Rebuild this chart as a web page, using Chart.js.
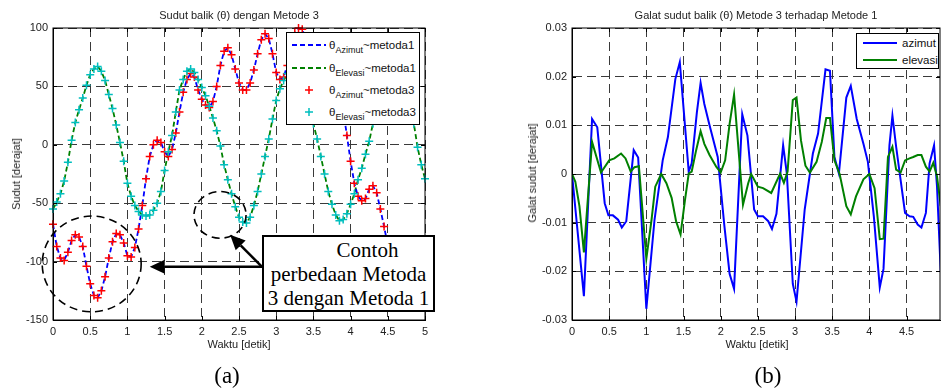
<!DOCTYPE html>
<html lang="id">
<head>
<meta charset="utf-8">
<title>Sudut balik Metode 3</title>
<script src="https://cdn.jsdelivr.net/npm/chart.js@4.4.1/dist/chart.umd.min.js"></script>
<style>
  html, body { margin: 0; padding: 0; background: #fff; }
  #wrap { position: relative; width: 941px; height: 392px; overflow: hidden;
          font-family: "Liberation Sans", Arial, sans-serif; color: #222; }
  canvas { position: absolute; top: 0; }
  .lbl { position: absolute; white-space: nowrap; transform: translate(-50%, -50%); font-size: 11px; }
  .rot { transform: translate(-50%, -50%) rotate(-90deg); }
  .cap { font-family: "Liberation Serif", "Times New Roman", serif; font-size: 23px; color: #000; }
  .leg { position: absolute; box-sizing: border-box; background: #fff; border: 1px solid #000;
         font-size: 11.5px; color: #111; }
  .leg .row { position: absolute; left: 0; height: 16px; line-height: 16px; white-space: nowrap; }
  .leg svg { position: absolute; top: 0; }
  .leg span { position: absolute; top: 0; }
  .leg sub { font-size: 9px; vertical-align: -4px; line-height: 0; }
  #kotak { position: absolute; left: 262px; top: 235px; width: 173px; height: 77px; box-sizing: border-box;
           border: 2px solid #000; background: #fff; color: #000; text-align: center;
           font-family: "Liberation Serif", "Times New Roman", serif; font-size: 21px; line-height: 24px; padding-top: 1px; }
</style>
</head>
<body>
<div id="wrap">
  <canvas id="grafikA" width="470" height="392" style="left:0"></canvas>
  <canvas id="grafikB" width="471" height="392" style="left:470px"></canvas>

  <div class="lbl" style="left:239px;top:14.5px">Sudut balik (θ) dengan Metode 3</div>
  <div class="lbl" style="left:756px;top:14.5px">Galat sudut balik (θ) Metode 3 terhadap Metode 1</div>
  <div class="lbl" style="left:239px;top:344px">Waktu [detik]</div>
  <div class="lbl" style="left:757px;top:344px">Waktu [detik]</div>
  <div class="lbl rot" style="left:16px;top:174px">Sudut [derajat]</div>
  <div class="lbl rot" style="left:532px;top:173px">Galat sudut [derajat]</div>
  <div class="lbl cap" style="left:227px;top:376px">(a)</div>
  <div class="lbl cap" style="left:768px;top:376px">(b)</div>

  <!-- legenda grafik (a) -->
  <div class="leg" style="left:286px;top:32px;width:134px;height:93px">
    <div class="row" style="top:4px"><svg width="34" height="16" style="left:5px"><line x1="0" y1="8" x2="34" y2="8" stroke="#0000ff" stroke-width="1.8" stroke-dasharray="5,3"/></svg><span style="left:42px">θ<sub>Azimut</sub>~metoda1</span></div>
    <div class="row" style="top:27px"><svg width="34" height="16" style="left:5px"><line x1="0" y1="8" x2="34" y2="8" stroke="#008000" stroke-width="1.8" stroke-dasharray="5,3"/></svg><span style="left:42px">θ<sub>Elevasi</sub>~metoda1</span></div>
    <div class="row" style="top:49px"><svg width="34" height="16" style="left:5px"><path d="M13 8H21M17 4V12" stroke="#ff0000" stroke-width="1.5"/></svg><span style="left:42px">θ<sub>Azimut</sub>~metoda3</span></div>
    <div class="row" style="top:71px"><svg width="34" height="16" style="left:5px"><path d="M13 8H21M17 4V12" stroke="#00bfbf" stroke-width="1.5"/></svg><span style="left:42px">θ<sub>Elevasi</sub>~metoda3</span></div>
  </div>

  <!-- legenda grafik (b) -->
  <div class="leg" style="left:856px;top:33px;width:83px;height:36px">
    <div class="row" style="top:1px"><svg width="34" height="16" style="left:6px"><line x1="0" y1="8" x2="34" y2="8" stroke="#0000ff" stroke-width="2"/></svg><span style="left:45px">azimut</span></div>
    <div class="row" style="top:18px"><svg width="34" height="16" style="left:6px"><line x1="0" y1="8" x2="34" y2="8" stroke="#008000" stroke-width="2"/></svg><span style="left:45px">elevasi</span></div>
  </div>

  <div id="kotak">
    <div style="padding-left:38px">Contoh</div>
    <div>perbedaan Metoda</div>
    <div>3 dengan Metoda 1</div>
  </div>
</div>

<script>
// ---------- DATA ----------
const waktu = [
  0, 0.05, 0.1, 0.15, 0.2, 0.25, 0.3, 0.35, 0.4, 0.45, 0.5, 0.55, 0.6, 0.65, 0.7, 0.75, 0.8, 0.85, 0.9, 0.95,
  1, 1.05, 1.1, 1.15, 1.2, 1.25, 1.3, 1.35, 1.4, 1.45, 1.5, 1.55, 1.6, 1.65, 1.7, 1.75, 1.8, 1.85, 1.9, 1.95,
  2, 2.05, 2.1, 2.15, 2.2, 2.25, 2.3, 2.35, 2.4, 2.45, 2.5, 2.55, 2.6, 2.65, 2.7, 2.75, 2.8, 2.85, 2.9, 2.95,
  3, 3.05, 3.1, 3.15, 3.2, 3.25, 3.3, 3.35, 3.4, 3.45, 3.5, 3.55, 3.6, 3.65, 3.7, 3.75, 3.8, 3.85, 3.9, 3.95,
  4, 4.05, 4.1, 4.15, 4.2, 4.25, 4.3, 4.35, 4.4, 4.45, 4.5, 4.55, 4.6, 4.65, 4.7, 4.75, 4.8, 4.85, 4.9, 4.95, 5
];

const azimutM1 = [
  -68, -87, -97, -99, -92, -82, -77, -79, -87, -104, -119, -129, -131, -125, -113, -97, -83, -76, -77, -84,
  -95, -96, -88, -72, -52, -29, -10, 0, 4, 2, -6, -10, -4, 10, 28, 45, 56, 61, 58, 47,
  39, 34, 32, 37, 50, 68, 80, 83, 77, 65, 53, 47, 47, 53, 64, 78, 90, 95, 91, 78,
  62, 56, 58, 68, 84, 96, 100, 99, 90, 78, 68, 63, 65, 71, 73, 67, 56, 44, 30, 8,
  -14, -33, -44, -48, -46, -38, -35, -41, -55, -70, -86, -99, -105, -102, -97, -99, -108, -117, -121, -117, -108
];

const elevasiM1 = [
  -55, -49, -42, -31, -15, 4, 19, 30, 40, 51, 60, 65, 67, 63, 55, 43, 31, 17, 2, -14,
  -33, -44, -52, -57, -60, -61, -60, -56, -50, -40, -22, -6, 8, 28, 47, 56, 63, 65, 62, 56,
  49, 42, 33, 23, 12, -1, -17, -30, -42, -53, -62, -66, -67, -62, -52, -40, -25, -10, 5, 22,
  38, 48, 55, 61, 64, 63, 58, 50, 40, 30, 18, 5, -10, -25, -40, -51, -60, -65, -64, -59,
  -51, -42, -30, -20, -8, 3, 18, 35, 50, 60, 64, 63, 61, 56, 48, 40, 30, 18, -2, -17, -29
];

// metoda 3 berbeda < 0.03 derajat, pada skala ini titiknya jatuh di garis metoda 1
const azimutM3 = azimutM1.slice();
const elevasiM3 = elevasiM1.slice();

// galat (b): titik sudut garis seperti terbaca
const galatAzT = [0, 0.16, 0.27, 0.34, 0.44, 0.49, 0.55, 0.62, 0.67, 0.73, 0.83, 0.89, 1.00, 1.11, 1.22, 1.29, 1.39, 1.45,
  1.57, 1.61, 1.68, 1.73, 1.78, 1.85, 1.96, 2.05, 2.12, 2.18, 2.29, 2.36, 2.45, 2.50, 2.57, 2.64, 2.69, 2.75, 2.84, 2.89,
  2.97, 3.02, 3.13, 3.24, 3.31, 3.41, 3.47, 3.53, 3.59, 3.69, 3.75, 3.83, 3.92, 3.98, 4.06, 4.14, 4.19, 4.27, 4.31, 4.36,
  4.48, 4.54, 4.59, 4.65, 4.70, 4.76, 4.81, 4.87, 4.91, 4.96];
const galatAzV = [0, -0.0251, 0.0113, 0.0096, -0.0060, -0.0085, -0.0085, -0.0094, -0.0110, -0.0097, 0.0049, 0.0034, -0.0277,
  -0.0094, 0.0028, 0.0076, 0.0195, 0.0230, 0.0005, 0.0022, 0.0127, 0.0187, 0.0144, 0.0100, 0.0035, -0.0107, -0.0205, -0.0236,
  0.0123, 0.0079, -0.0073, -0.0087, -0.0087, -0.0097, -0.0113, -0.0082, 0.0059, 0.0001, -0.0226, -0.0262, -0.0073, 0.0042,
  0.0083, 0.0215, 0.0212, 0.0035, 0.0001, 0.0157, 0.0181, 0.0113, 0.0062, 0.0025, -0.0087, -0.0233, -0.0195, 0.0059, 0.0120,
  0.0056, -0.0080, -0.0087, -0.0088, -0.0104, -0.0110, -0.0080, 0.0022, 0.0059, -0.0026, -0.0202];

const galatElT = [0, 0.045, 0.10, 0.16, 0.27, 0.39, 0.50, 0.57, 0.66, 0.72, 0.79, 0.84, 0.90, 1.00, 1.07, 1.12, 1.20, 1.27,
  1.34, 1.40, 1.46, 1.52, 1.57, 1.61, 1.67, 1.73, 1.78, 1.85, 1.94, 2.00, 2.06, 2.12, 2.18, 2.30, 2.37, 2.41, 2.50, 2.57,
  2.68, 2.80, 2.85, 2.90, 2.97, 3.02, 3.08, 3.14, 3.20, 3.29, 3.36, 3.42, 3.47, 3.53, 3.60, 3.69, 3.75, 3.82, 3.92, 4.00,
  4.07, 4.14, 4.19, 4.25, 4.31, 4.36, 4.42, 4.48, 4.54, 4.59, 4.65, 4.70, 4.76, 4.81, 4.86, 4.91, 4.96];
const galatElV = [0, -0.0016, -0.0066, -0.0161, 0.0066, 0.0003, 0.0028, 0.0032, 0.0042, 0.0032, 0.0005, 0.0014, 0.0016,
  -0.0174, -0.0094, -0.0026, 0, -0.0019, -0.0049, -0.0097, -0.0124, -0.0053, 0.0001, 0.0005, 0.0049, 0.0088, 0.0062, 0.0039,
  0.0015, 0.0003, 0.0028, 0.0103, 0.0163, -0.0063, -0.0019, 0, -0.0026, -0.0029, -0.0039, 0.0001, -0.0018, 0.0005, 0.0152,
  0.0157, 0.0069, 0.0017, 0.0003, 0.0025, 0.0066, 0.0115, 0.0115, 0.0028, 0, -0.0066, -0.0083, -0.0046, -0.0011, 0, -0.0029,
  -0.0134, -0.0133, 0.0035, 0.0056, 0.0009, 0.0003, 0.0028, 0.0032, 0.0035, 0.0039, 0.0039, 0.0015, 0.0005, 0.0023, -0.0005,
  -0.0066];

// tick
const xTicksA = [0, 0.5, 1, 1.5, 2, 2.5, 3, 3.5, 4, 4.5, 5];
const yTicksA = [-150, -100, -50, 0, 50, 100];
const xTicksB = [0, 0.5, 1, 1.5, 2, 2.5, 3, 3.5, 4, 4.5];
const yTicksB = [-0.03, -0.02, -0.01, 0, 0.01, 0.02, 0.03];

// anotasi (a), dalam koordinat data
const lingkaran = [
  { t: 0.52, v: -102, rt: 0.665, rv: 41 },
  { t: 2.245, v: -60, rt: 0.35, rv: 20 }
];
const panah = [
  { dari: [2.81, -104.5], ke: [1.30, -104.5] },
  { dari: [2.81, -104.5], ke: [2.38, -77] }
];

// ---------- Utilities ----------
const pairs = (xs, ys) => xs.map((x, i) => ({ x, y: ys[i] }));
const FONT = '"Liberation Sans", Arial, sans-serif';

Chart.defaults.font.family = FONT;
Chart.defaults.font.size = 11;
Chart.defaults.color = '#222';

function axis(min, max, ticks, fit) {
  return {
    type: 'linear', min, max,
    afterBuildTicks: s => { s.ticks = ticks.map(v => ({ value: v })); },
    afterFit: fit,
    grid: { color: '#3a3a3a', lineWidth: 1, drawTicks: false },
    border: { display: true, color: '#000', width: 1, dash: [9, 5] },
    ticks: { padding: 5, color: '#222', autoSkip: false, maxRotation: 0, callback: v => String(v) }
  };
}

// bingkai penuh + tick ke dalam (gaya MATLAB)
const bingkai = {
  id: 'bingkai',
  afterDraw(chart) {
    const { ctx, chartArea: a, scales: { x, y } } = chart;
    ctx.save();
    ctx.strokeStyle = '#000';
    ctx.lineWidth = 1;
    ctx.setLineDash([]);
    ctx.strokeRect(a.left, a.top, a.right - a.left, a.bottom - a.top);
    ctx.beginPath();
    x.ticks.forEach(t => {
      const px = Math.round(x.getPixelForValue(t.value)) + 0.5;
      ctx.moveTo(px, a.bottom); ctx.lineTo(px, a.bottom - 4);
      ctx.moveTo(px, a.top); ctx.lineTo(px, a.top + 4);
    });
    y.ticks.forEach(t => {
      const py = Math.round(y.getPixelForValue(t.value)) + 0.5;
      ctx.moveTo(a.left, py); ctx.lineTo(a.left + 4, py);
      ctx.moveTo(a.right, py); ctx.lineTo(a.right - 4, py);
    });
    ctx.stroke();
    ctx.restore();
  }
};

const anotasi = {
  id: 'anotasi',
  afterDatasetsDraw(chart) {
    const { ctx, scales: { x, y } } = chart;
    ctx.save();
    ctx.strokeStyle = '#000';
    ctx.fillStyle = '#000';
    ctx.lineWidth = 1.6;
    ctx.setLineDash([8, 5]);
    lingkaran.forEach(c => {
      const cx = x.getPixelForValue(c.t), cy = y.getPixelForValue(c.v);
      const rx = Math.abs(x.getPixelForValue(c.t + c.rt) - cx);
      const ry = Math.abs(y.getPixelForValue(c.v + c.rv) - cy);
      ctx.beginPath();
      ctx.ellipse(cx, cy, rx, ry, 0, 0, Math.PI * 2);
      ctx.stroke();
    });
    ctx.setLineDash([]);
    ctx.lineWidth = 2.5;
    panah.forEach(p => {
      const x0 = x.getPixelForValue(p.dari[0]), y0 = y.getPixelForValue(p.dari[1]);
      const x1 = x.getPixelForValue(p.ke[0]), y1 = y.getPixelForValue(p.ke[1]);
      const ang = Math.atan2(y1 - y0, x1 - x0);
      const bx = x1 - 15 * Math.cos(ang), by = y1 - 15 * Math.sin(ang);
      ctx.beginPath();
      ctx.moveTo(x0, y0); ctx.lineTo(bx, by);
      ctx.stroke();
      ctx.beginPath();
      ctx.moveTo(x1, y1);
      ctx.lineTo(bx + 7 * Math.sin(ang), by - 7 * Math.cos(ang));
      ctx.lineTo(bx - 7 * Math.sin(ang), by + 7 * Math.cos(ang));
      ctx.closePath();
      ctx.fill();
    });
    ctx.restore();
  }
};

const common = {
  type: 'line',
  options: {
    responsive: false,
    animation: false,
    devicePixelRatio: 1,
    plugins: { legend: { display: false }, tooltip: { enabled: false } },
    elements: { line: { tension: 0 } }
  }
};

// ---------- Grafik (a) ----------
new Chart(document.getElementById('grafikA'), {
  ...common,
  data: {
    datasets: [
      { label: 'θAzimut~metoda1', data: pairs(waktu, azimutM1), borderColor: '#0000ff', borderWidth: 1.8,
        borderDash: [5, 3], pointRadius: 0, order: 3 },
      { label: 'θElevasi~metoda1', data: pairs(waktu, elevasiM1), borderColor: '#008000', borderWidth: 1.8,
        borderDash: [5, 3], pointRadius: 0, order: 4 },
      { label: 'θAzimut~metoda3', data: pairs(waktu, azimutM3), showLine: false, pointStyle: 'cross',
        pointRadius: 4, pointBorderWidth: 1.5, pointBorderColor: '#ff0000', borderColor: '#ff0000', clip: 6, order: 2 },
      { label: 'θElevasi~metoda3', data: pairs(waktu, elevasiM3), showLine: false, pointStyle: 'cross',
        pointRadius: 4, pointBorderWidth: 1.5, pointBorderColor: '#00bfbf', borderColor: '#00bfbf', clip: 6, order: 1 }
    ]
  },
  options: {
    ...common.options,
    layout: { padding: { left: 0, right: 45, top: 28, bottom: 42 } },
    scales: {
      x: axis(0, 5, xTicksA, s => { s.height = 30; }),
      y: axis(-150, 100, yTicksA, s => { s.width = 53; })
    }
  },
  plugins: [anotasi, bingkai]
});

// ---------- Grafik (b) ----------
new Chart(document.getElementById('grafikB'), {
  ...common,
  data: {
    datasets: [
      { label: 'azimut', data: pairs(galatAzT, galatAzV), borderColor: '#0000ff', borderWidth: 2, pointRadius: 0, order: 2 },
      { label: 'elevasi', data: pairs(galatElT, galatElV), borderColor: '#008000', borderWidth: 2, pointRadius: 0, order: 1 }
    ]
  },
  options: {
    ...common.options,
    layout: { padding: { left: 50, right: 1, top: 28, bottom: 42 } },
    scales: {
      x: axis(0, 4.95, xTicksB, s => { s.height = 30; }),
      y: axis(-0.03, 0.03, yTicksB, s => { s.width = 52; })
    }
  },
  plugins: [bingkai]
});
</script>
</body>
</html>
